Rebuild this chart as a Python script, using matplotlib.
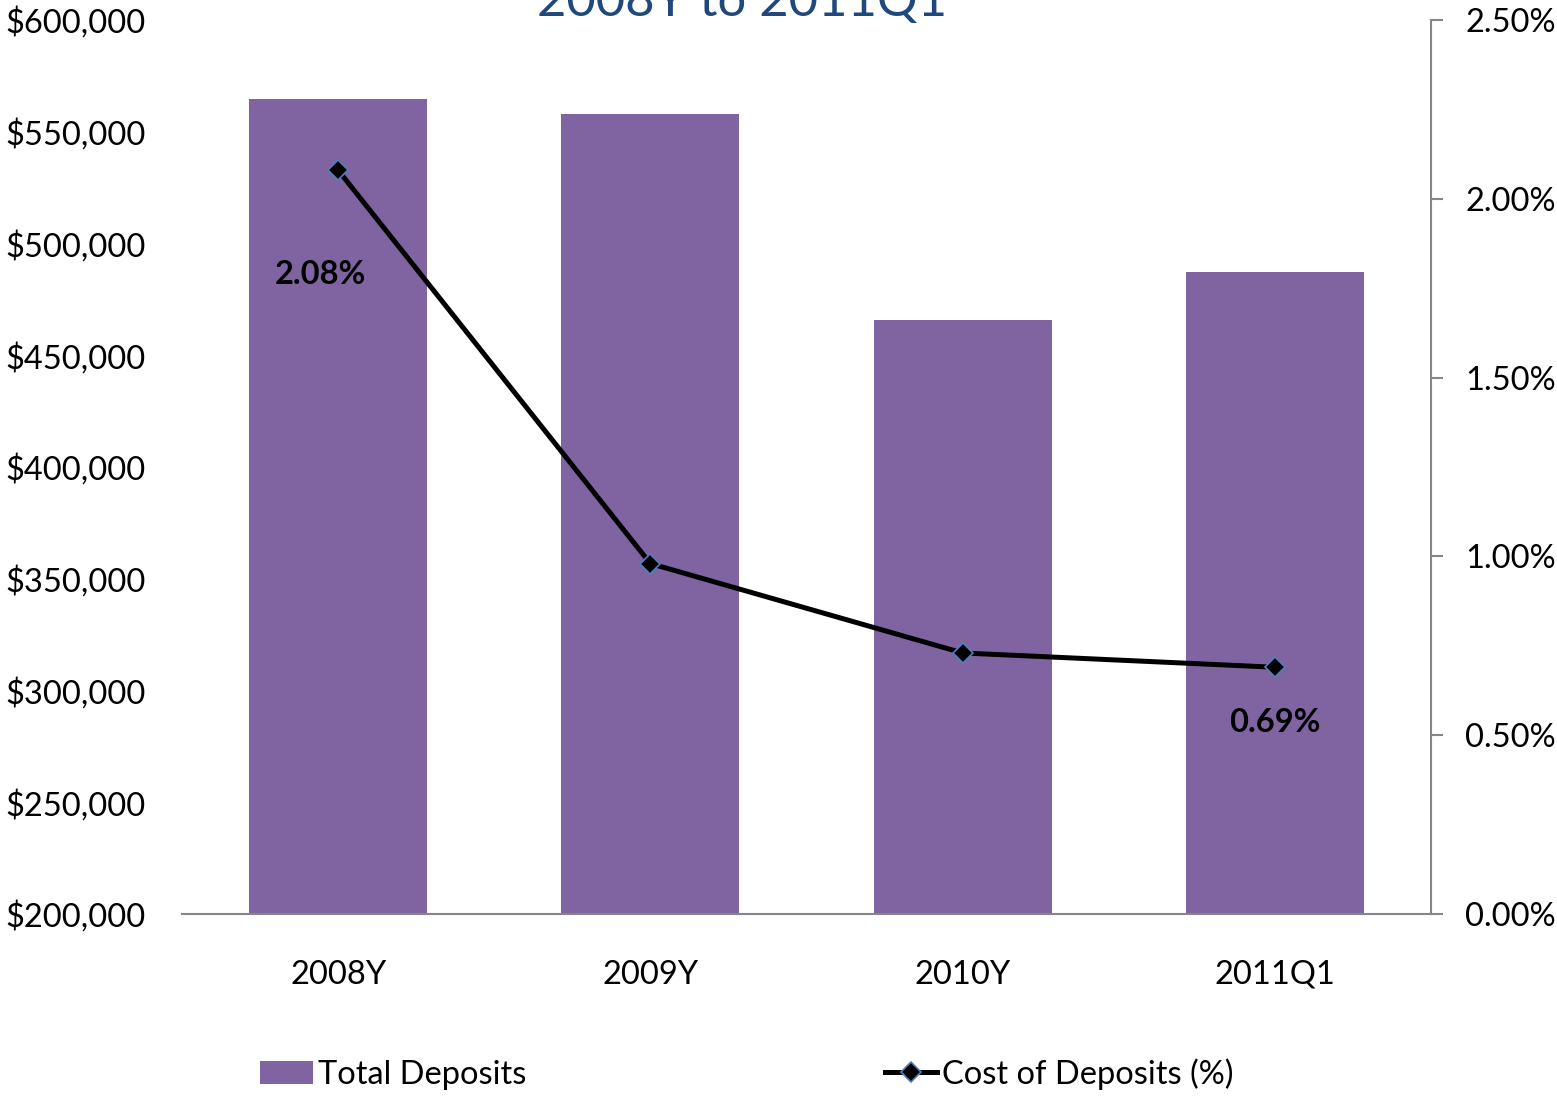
import matplotlib
matplotlib.use("Agg")
import matplotlib.pyplot as plt
from matplotlib.ticker import FuncFormatter, MultipleLocator

categories = ["2008Y", "2009Y", "2010Y", "2011Q1"]
total_deposits = [564650, 557900, 465800, 487250]
cost_of_deposits = [2.08, 0.98, 0.73, 0.69]
title = "2008Y to 2011Q1"

plt.rcParams['font.family'] = ['Lato', 'DejaVu Sans']
FS = 23.5

fig = plt.figure(figsize=(15.57, 10.97), dpi=100)
ax = fig.add_axes([182/1557, 1 - 914/1097, (1431-182)/1557, (914-20)/1097])
x = list(range(len(categories)))
bars = ax.bar(x, total_deposits, width=0.57, color="#8064A2", label="Total Deposits", zorder=2)
ax.set_xlim(-0.5, 3.5)
ax.set_ylim(200000, 600000)
ax.yaxis.set_major_locator(MultipleLocator(50000))
ax.yaxis.set_major_formatter(FuncFormatter(lambda v, p: f"${v:,.0f}"))
ax.set_xticks(x)
ax.set_xticklabels(categories)
for s in ["top", "right", "left"]:
    ax.spines[s].set_visible(False)
ax.spines["bottom"].set_color("#868686")
ax.spines["bottom"].set_linewidth(1.5)
ax.tick_params(axis="y", length=0, labelsize=FS, pad=26)
ax.tick_params(axis="x", length=0, labelsize=FS, pad=33)

ax2 = ax.twinx()
ax2.set_ylim(0, 2.5)
ax2.yaxis.set_major_locator(MultipleLocator(0.5))
ax2.yaxis.set_major_formatter(FuncFormatter(lambda v, p: f"{v:.2f}%"))
line, = ax2.plot(x, cost_of_deposits, color="black", lw=3.6, marker="D", markersize=10,
                 markerfacecolor="black", markeredgecolor="#4F81BD", markeredgewidth=1.2,
                 label="Cost of Deposits (%)", zorder=3)
for s in ["top", "left", "bottom"]:
    ax2.spines[s].set_visible(False)
ax2.spines["right"].set_color("#868686")
ax2.spines["right"].set_linewidth(1.5)
ax2.tick_params(axis="y", direction="out", length=8.6, width=1.5, color="#868686", labelsize=FS, pad=16)

ax2.annotate(f"{cost_of_deposits[0]:.2f}%", (x[0], cost_of_deposits[0]), xytext=(-13, -75),
             textcoords="offset points", ha="center", va="center", fontsize=FS, fontweight="bold")
ax2.annotate(f"{cost_of_deposits[-1]:.2f}%", (x[-1], cost_of_deposits[-1]), xytext=(0, -40),
             textcoords="offset points", ha="center", va="center", fontsize=FS, fontweight="bold")

fig.text(742/1557, 1 - 2/1097, title, ha="center", va="center", fontsize=36.5, color="#1F497D")

fig.legend(handles=[bars, line], loc="center", bbox_to_anchor=(747/1557, 1 - 1074/1097), ncol=2,
           frameon=False, fontsize=FS, columnspacing=11.0, handlelength=1.6, handletextpad=0.15,
           borderaxespad=0)

fig.savefig("out.png", dpi=100)
